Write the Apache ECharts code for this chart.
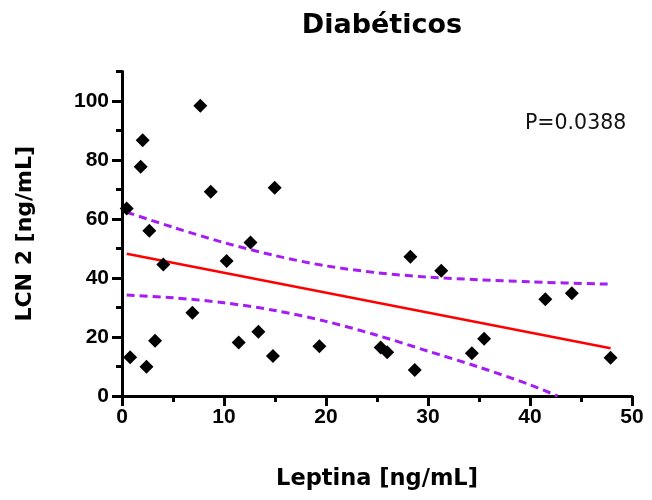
<!DOCTYPE html>
<html>
<head>
<meta charset="utf-8">
<title>Diabéticos</title>
<script src="https://cdn.jsdelivr.net/npm/echarts@6/dist/echarts.min.js"></script>
<style>
  html, body { margin: 0; padding: 0; background: #ffffff; }
  #chart { width: 652px; height: 500px; }
</style>
</head>
<body>
<div id="chart"></div>
<script>
// Leptina vs LCN 2, diabetic patients
const leptina = [0.46, 0.8, 2.4, 1.83, 2.03, 2.68, 3.24, 4.05, 7.68, 6.9, 8.7, 10.26, 11.44, 12.6,
                 13.37, 14.97, 14.8, 19.35, 25.36, 26.0, 28.27, 28.7, 31.3, 34.3, 35.5, 41.5, 44.1, 47.9];
const lcn2    = [63.6, 13.1, 9.9, 77.7, 86.7, 56.0, 18.7, 44.6, 98.4, 28.2, 69.2, 45.8, 18.1, 52.0,
                 21.8, 70.6, 13.6, 16.9, 16.4, 14.8, 47.2, 8.8, 42.5, 14.5, 19.4, 32.8, 34.8, 13.0];

// Linear fit (end points) and its 95% confidence band
const fitX = [0.46, 47.9];
const fitY = [48.2, 16.2];
const upperX = [0.46, 5, 10, 15, 20, 25, 30, 35, 40, 47.9];
const upperY = [62.3, 57.2, 52.0, 47.6, 44.1, 41.8, 40.3, 39.4, 38.7, 37.9];
const lowerX = [0.46, 5, 10, 15, 20, 25, 30, 35, 40, 42.7];
const lowerY = [34.2, 33.3, 31.6, 29.0, 25.3, 20.6, 15.2, 9.8, 3.8, 0.0];

const xTicks = [0, 10, 20, 30, 40, 50];
const yTicks = [0, 20, 40, 60, 80, 100];
const pLabel = 'P=0.0388';

const zip = (xs, ys) => xs.map((x, i) => [x, ys[i]]);

const BOLD_ARIAL = { fontFamily: '"Liberation Sans", Arial, sans-serif', fontWeight: 'bold', fontSize: 21, color: '#000' };
const PURPLE = '#a51df2';

const chart = echarts.init(document.getElementById('chart'), null, { renderer: 'canvas' });

chart.setOption({
  animation: false,
  backgroundColor: '#ffffff',
  title: {
    text: 'Diabéticos',
    left: 377,
    textAlign: 'center',
    top: 7,
    textStyle: { fontFamily: 'DejaVu Sans', fontWeight: 'bold', fontSize: 27, color: '#000' }
  },
  grid: { left: 122, right: 20, top: 71.5, bottom: 104 },
  xAxis: {
    type: 'value',
    min: 0, max: 50, interval: 10,
    name: 'Leptina [ng/mL]',
    nameLocation: 'middle',
    nameGap: 72,
    nameTextStyle: { fontFamily: 'DejaVu Sans', fontWeight: 'bold', fontSize: 22.5, color: '#000' },
    axisLine: { show: true, onZero: false, lineStyle: { color: '#000', width: 3 } },
    axisTick: { show: true, length: 10, lineStyle: { color: '#000', width: 3 } },
    minorTick: { show: true, splitNumber: 2, length: 6, lineStyle: { color: '#000', width: 3 } },
    axisLabel: Object.assign({ margin: 11, customValues: xTicks }, BOLD_ARIAL),
    splitLine: { show: false },
    minorSplitLine: { show: false }
  },
  yAxis: [
    {
      type: 'value',
      position: 'left',
      min: 0, max: 110, interval: 10,
      name: 'LCN 2 [ng/mL]',
      nameLocation: 'middle',
      nameGap: 86,
      nameTextStyle: { fontFamily: 'DejaVu Sans', fontWeight: 'bold', fontSize: 22, color: '#000' },
      axisLine: { show: true, onZero: false, lineStyle: { color: '#000', width: 3 } },
      axisTick: { show: true, length: 10, customValues: yTicks, lineStyle: { color: '#000', width: 3 } },
      axisLabel: Object.assign({ margin: 13, customValues: yTicks }, BOLD_ARIAL),
      splitLine: { show: false }
    },
    {
      // short ticks every 10 units
      type: 'value',
      position: 'left',
      min: 0, max: 110, interval: 10,
      axisLine: { show: false },
      axisTick: { show: true, length: 6, lineStyle: { color: '#000', width: 3 } },
      axisLabel: { show: false },
      splitLine: { show: false }
    }
  ],
  graphic: [{
    type: 'text',
    left: 525,
    top: 113,
    style: { text: pLabel, font: '20.5px "DejaVu Sans"', fill: '#111' }
  }],
  series: [
    {
      name: 'upper95',
      type: 'line',
      data: zip(upperX, upperY),
      smooth: 0.3,
      symbol: 'none',
      z: 2,
      lineStyle: { color: PURPLE, width: 3, type: [8, 5] }
    },
    {
      name: 'lower95',
      type: 'line',
      data: zip(lowerX, lowerY),
      smooth: 0.3,
      symbol: 'none',
      z: 2,
      lineStyle: { color: PURPLE, width: 3, type: [8, 5] }
    },
    {
      name: 'fit',
      type: 'line',
      data: zip(fitX, fitY),
      symbol: 'none',
      z: 3,
      lineStyle: { color: '#ff0000', width: 2.5 }
    },
    {
      name: 'pacientes',
      type: 'scatter',
      data: zip(leptina, lcn2),
      symbol: 'diamond',
      symbolSize: 14,
      z: 4,
      itemStyle: { color: '#000', opacity: 1 }
    }
  ]
});
</script>
</body>
</html>
